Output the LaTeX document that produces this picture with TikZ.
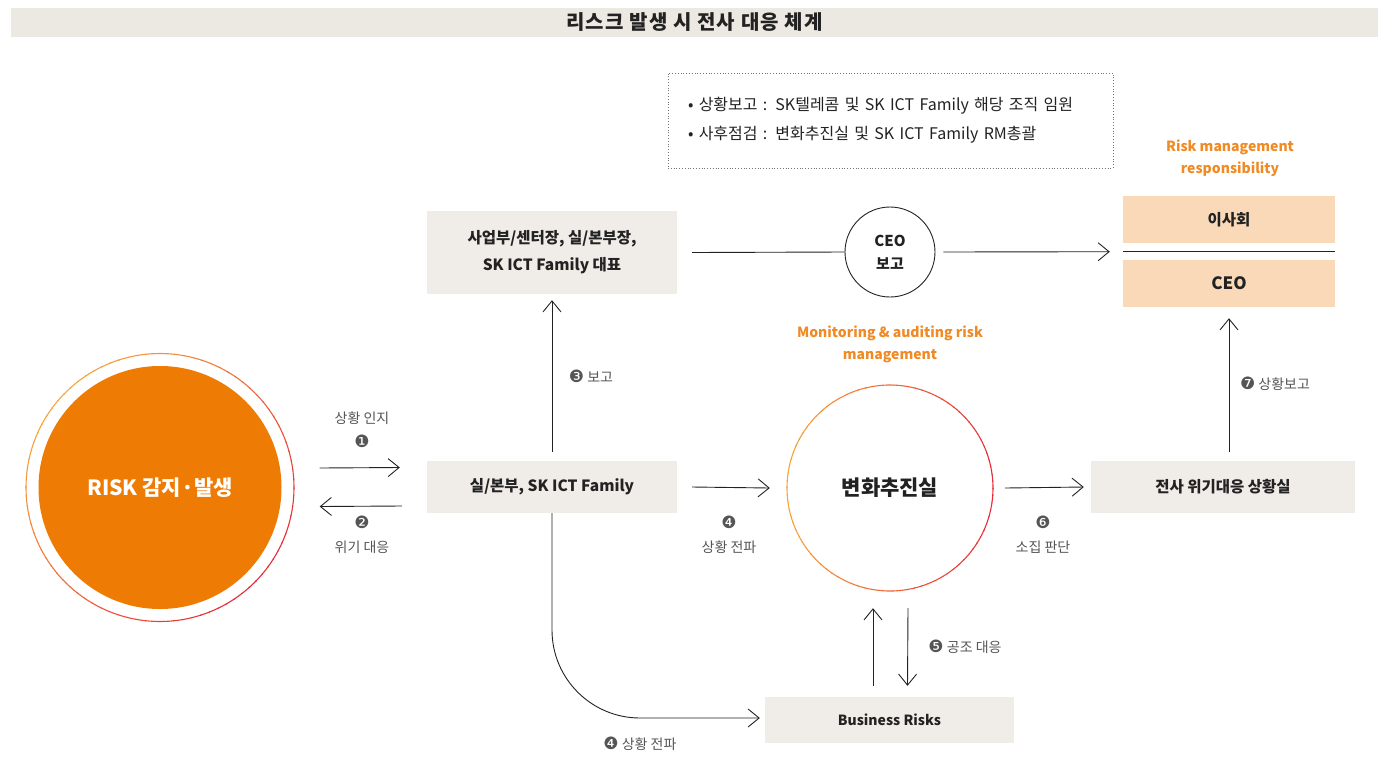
\documentclass[tikz,border=0pt]{standalone}
\usepackage{fontspec}
\setmainfont{Noto Sans CJK KR}
\newfontfamily\dingfont{DejaVu Sans}
\usetikzlibrary{arrows.meta}
\definecolor{barbg}{HTML}{ECE8E2}
\definecolor{boxbg}{HTML}{F0ECE8}
\definecolor{peach}{HTML}{F9D9B8}
\definecolor{riskorange}{HTML}{EE7B04}
\definecolor{accent}{HTML}{F08A24}
\definecolor{ringA}{HTML}{F8A53C}
\definecolor{ringB}{HTML}{E52D3A}
\definecolor{labelgray}{HTML}{555555}
\definecolor{ink}{HTML}{222222}
\newcommand{\cnum}[1]{{\dingfont\fontsize{17}{16}\selectfont #1}}

\begin{document}
\begin{tikzpicture}[x=1pt, y=-1pt, font=\fontsize{13}{16}\selectfont, text=ink,
  greybox/.style={fill=boxbg, inner sep=0pt, align=center, font=\bfseries\fontsize{15.5}{27}\selectfont},
  peachbox/.style={fill=peach, minimum width=212pt, minimum height=47pt, inner sep=0pt, font=\bfseries\fontsize{15.5}{18}\selectfont},
  arr/.style={-{Straight Barb[length=11pt, width=18pt]}, line width=0.9pt, draw=ink},
  link/.style={line width=0.9pt, draw=ink},
  steplabel/.style={text=labelgray, font=\fontsize{14}{16}\selectfont, align=center},
  orangehead/.style={text=accent, align=center, font=\bfseries\fontsize{14}{22}\selectfont},
]
\useasboundingbox (0,0) rectangle (1382,756);

% ---------------------------------------------------------------- title
\node[fill=barbg, minimum width=1367pt, minimum height=29pt, inner sep=0pt,
  font=\bfseries\fontsize{20}{20}\selectfont\addfontfeatures{LetterSpace=6}] (title) at (694.5,22.5) {리스크 발생 시 전사 대응 체계};

% ---------------------------------------------------------------- note
\node[draw=black!55, dotted, line width=0.8pt, minimum width=445pt, minimum height=95pt,
  text width=405pt, align=left, font=\fontsize{16}{29}\selectfont] (note) at (890.5,120.5)
  {• 상황보고 : SK텔레콤 및 SK ICT Family 해당 조직 임원\\• 사후점검 : 변화추진실 및 SK ICT Family RM총괄};

% ---------------------------------------------------------------- responsibility
\node[orangehead] (rmlabel) at (1230,158) {Risk management\\responsibility};
\node[peachbox] (board) at (1229,219.5) {이사회};
\node[peachbox, font=\fontsize{17}{18}\selectfont\bfseries] (ceo) at (1229,283.5) {CEO};
\draw[line width=1pt, draw=ink] ([yshift=-8.5pt]board.south west) coordinate (split) -- ([yshift=-8.5pt]board.south east);

% ---------------------------------------------------------------- top row
\node[greybox, minimum width=250pt, minimum height=83pt] (heads) at (552,252.5)
  {사업부/센터장, 실/본부장,\\SK ICT Family 대표};
\node[circle, draw=ink, line width=0.9pt, minimum size=90pt, inner sep=0pt, align=center,
  font=\bfseries\fontsize{15}{23}\selectfont] (ceorep) at (890,252) {CEO\\보고};
\draw[link] ([xshift=15pt]heads.east) -- (ceorep.west);
\draw[arr] ([xshift=8pt]ceorep.east) -- ([xshift=-13pt]split);

% ---------------------------------------------------------------- risk
\node[circle, fill=riskorange, minimum size=243pt, inner sep=0pt, text=white,
  font=\bfseries\fontsize{21}{24}\selectfont] (risk) at (160,487.5) {RISK 감지·발생};
\foreach \a in {0,4,...,356} {
  \pgfmathsetmacro\m{50+50*cos(\a-40)}
  \draw[line width=1.1pt, draw=ringB!\m!ringA] (risk.center) ++(\a:134) arc[start angle=\a, end angle=\a+4.5, radius=134];
}

% ---------------------------------------------------------------- middle row
\node[greybox, minimum width=250pt, minimum height=52pt] (unit) at (552,487) {실/본부, SK ICT Family};
\node[circle, minimum size=206pt, inner sep=0pt, font=\bfseries\fontsize{21}{24}\selectfont] (cpo) at (890,488) {변화추진실};
\foreach \a in {0,4,...,356} {
  \pgfmathsetmacro\m{50+50*cos(\a)}
  \draw[line width=1.1pt, draw=ringB!\m!ringA] (cpo.center) ++(\a:103) arc[start angle=\a, end angle=\a+4.5, radius=103];
}
\node[orangehead] (monlabel) at (890,344) {Monitoring \& auditing risk\\management};
\node[greybox, minimum width=264pt, minimum height=52pt] (room) at (1223,487) {전사 위기대응 상황실};
\node[greybox, minimum width=249pt, minimum height=46pt, font=\bfseries\fontsize{14}{16}\selectfont] (biz) at (889.5,720) {Business Risks};

\draw[arr] ([xshift=38pt, yshift=19.5pt]risk.east) -- ([xshift=-27pt, yshift=19.5pt]unit.west);
\draw[arr] ([xshift=-25pt, yshift=-19pt]unit.west) -- ([xshift=38pt, yshift=-19pt]risk.east);
\draw[arr] ([yshift=9pt]unit.north) -- ([yshift=-6pt]heads.south);
\draw[arr] ([xshift=15pt]unit.east) -- ([xshift=-17pt]cpo.west);
\draw[arr] ([xshift=12pt]cpo.east) -- ([xshift=-7pt]room.west);
\draw[arr] ([xshift=6pt, yshift=9pt]room.north) -- ([yshift=-11pt]ceo.south);
\draw[arr] ([xshift=-16.5pt, yshift=11pt]biz.north) -- ([xshift=-17pt, yshift=-17pt]cpo.south);
\draw[arr] ([xshift=18pt, yshift=-17pt]cpo.south) -- ([xshift=18pt, yshift=11pt]biz.north);
\draw[arr, rounded corners=88pt] (unit.south) |- ([xshift=-5pt, yshift=2pt]biz.west);

% ---------------------------------------------------------------- step labels
\node[steplabel] (s1) at (362,418) {상황 인지};
\node[steplabel] (n1) at (362,441) {\cnum{❶}};
\node[steplabel] (n2) at (362,522) {\cnum{❷}};
\node[steplabel] (s2) at (362,547) {위기 대응};
\node[steplabel] (s3) at (591,376) {\cnum{❸} 보고};
\node[steplabel] (n4) at (729,522) {\cnum{❹}};
\node[steplabel] (s4) at (729,547) {상황 전파};
\node[steplabel] (s5) at (965,647) {\cnum{❺} 공조 대응};
\node[steplabel] (n6) at (1043,522) {\cnum{❻}};
\node[steplabel] (s6) at (1043,547) {소집 판단};
\node[steplabel] (s7) at (1275,384) {\cnum{❼} 상황보고};
\node[steplabel] (s4b) at (640,744) {\cnum{❹} 상황 전파};
\end{tikzpicture}
\end{document}
